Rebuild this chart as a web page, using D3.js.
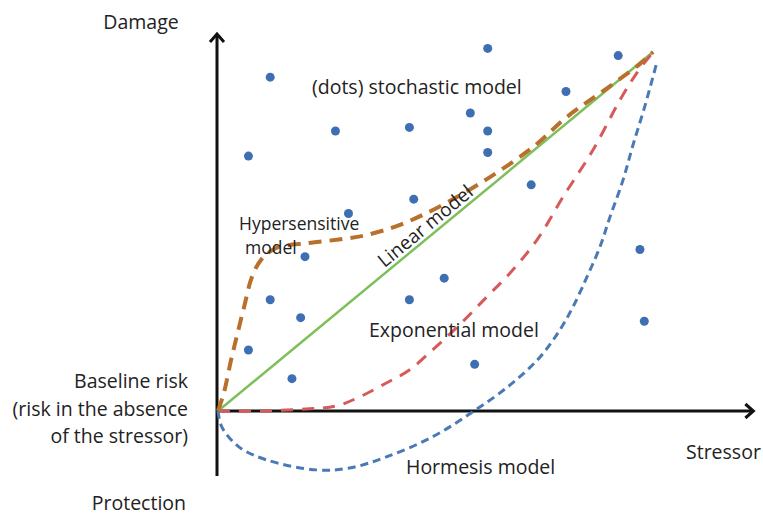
<!DOCTYPE html>
<html>
<head>
<meta charset="utf-8">
<script src="https://cdn.jsdelivr.net/npm/d3@7"></script>
<style>
  html, body { margin: 0; padding: 0; background: #fff; }
  svg text { font-family: "Open Sans", Lato, sans-serif; fill: #222; }
</style>
</head>
<body>
<svg id="chart" width="763" height="517"></svg>
<script>
// ---- data (stressor on x, damage on y; baseline at 0, common end point at 1,1) ----
const dotsX = [0.12, 0.62, 0.92, 0.80, 0.27, 0.44, 0.58, 0.62, 0.62, 0.07, 0.72, 0.45,
               0.30, 0.20, 0.97, 0.52, 0.12, 0.19, 0.44, 0.98, 0.07, 0.17, 0.59];
const dotsY = [0.93, 1.01, 0.99, 0.89, 0.78, 0.79, 0.83, 0.78, 0.72, 0.71, 0.63, 0.59,
               0.55, 0.43, 0.45, 0.37, 0.31, 0.26, 0.31, 0.25, 0.17, 0.09, 0.13];

const linearX = [0, 1];
const linearY = [0, 1];

const hyperX = [0, 0.014, 0.030, 0.044, 0.060, 0.078, 0.099, 0.134, 0.210, 0.286, 0.341,
                0.417, 0.502, 0.618, 0.724, 0.802, 0.908, 0.970, 1.0];
const hyperY = [0, 0.053, 0.142, 0.212, 0.290, 0.373, 0.421, 0.454, 0.468, 0.479, 0.490,
                0.518, 0.565, 0.646, 0.735, 0.819, 0.911, 0.967, 1.0];

const expoX = [0, 0.094, 0.210, 0.272, 0.325, 0.387, 0.440, 0.493, 0.555, 0.618, 0.671,
               0.733, 0.793, 0.862, 0.924, 0.963, 0.998];
const expoY = [0, 0, 0.006, 0.014, 0.039, 0.078, 0.114, 0.170, 0.240, 0.318, 0.384,
               0.476, 0.596, 0.727, 0.866, 0.942, 0.997];

const hormX = [0, 0.009, 0.048, 0.111, 0.226, 0.302, 0.387, 0.493, 0.585, 0.671, 0.740,
               0.786, 0.816, 0.848, 0.878, 0.901, 0.931, 0.954, 0.982, 1.009];
const hormY = [0, -0.045, -0.100, -0.136, -0.164, -0.159, -0.128, -0.072, -0.003, 0.072, 0.150,
               0.226, 0.290, 0.373, 0.457, 0.540, 0.643, 0.741, 0.852, 0.972];

const axisXExtent = [0, 1.233];
const axisYExtent = [-0.181, 1.053];

const baselineLines = ["Baseline risk", "(risk in the absence", "of the stressor)"];
const labelDamage = "Damage";
const labelProtection = "Protection";
const labelStressor = "Stressor";
const labelDots = "(dots) stochastic model";
const labelHyper = ["Hypersensitive", "model"];
const labelLinear = "Linear model";
const labelExpo = "Exponential model";
const labelHorm = "Hormesis model";

// ---- scales ----
const x = d3.scaleLinear().domain([0, 1]).range([218, 653]);
const y = d3.scaleLinear().domain([0, 1]).range([411, 52]);

const svg = d3.select("#chart");

const zip = (a, b) => a.map((v, i) => [v, b[i]]);
const line = d3.line().x(d => x(d[0])).y(d => y(d[1]));
const smooth = d3.line().x(d => x(d[0])).y(d => y(d[1])).curve(d3.curveCatmullRom.alpha(0.5));

// ---- dots ----
svg.append("g").selectAll("circle")
  .data(zip(dotsX, dotsY))
  .join("circle")
  .attr("cx", d => x(d[0]))
  .attr("cy", d => y(d[1]))
  .attr("r", 4.5)
  .attr("fill", "#3f6fb3");

// ---- axes ----
const axes = svg.append("g").attr("stroke", "#111").attr("fill", "none")
  .attr("stroke-width", 3).attr("stroke-linecap", "butt");
axes.append("line")
  .attr("x1", x(0) - 1).attr("x2", x(0) - 1)
  .attr("y1", y(axisYExtent[0])).attr("y2", y(axisYExtent[1]) + 2);
axes.append("line")
  .attr("x1", x(0) - 1).attr("x2", x(axisXExtent[1]) - 2)
  .attr("y1", y(0)).attr("y2", y(0));
// arrow heads
const yTipX = x(0) - 1, yTipY = y(axisYExtent[1]);
axes.append("path")
  .attr("stroke-linejoin", "miter")
  .attr("d", `M${yTipX - 7},${yTipY + 9}L${yTipX},${yTipY + 1}L${yTipX + 7},${yTipY + 9}`);
const xTipX = x(axisXExtent[1]), xTipY = y(0);
axes.append("path")
  .attr("stroke-linejoin", "miter")
  .attr("d", `M${xTipX - 9},${xTipY - 7}L${xTipX - 1},${xTipY}L${xTipX - 9},${xTipY + 7}`);

// ---- model curves ----
svg.append("path").datum(zip(linearX, linearY))
  .attr("d", line).attr("fill", "none")
  .attr("stroke", "#7fbf5a").attr("stroke-width", 2.5);

svg.append("path").datum(zip(expoX, expoY))
  .attr("d", smooth).attr("fill", "none")
  .attr("stroke", "#d65a5a").attr("stroke-width", 3)
  .attr("stroke-dasharray", "12,9");

svg.append("path").datum(zip(hormX, hormY))
  .attr("d", smooth).attr("fill", "none")
  .attr("stroke", "#4a79b4").attr("stroke-width", 3)
  .attr("stroke-dasharray", "8,5");

svg.append("path").datum(zip(hyperX, hyperY))
  .attr("d", smooth).attr("fill", "none")
  .attr("stroke", "#b8702c").attr("stroke-width", 4)
  .attr("stroke-dasharray", "13,8");

// ---- labels ----
const t = svg.append("g").attr("font-size", 19.5);
t.append("text").attr("x", 141).attr("y", 29).attr("text-anchor", "middle").text(labelDamage);
t.append("text").attr("x", 186).attr("y", 510).attr("text-anchor", "end").text(labelProtection);
t.append("text").attr("x", 686).attr("y", 459).text(labelStressor);
baselineLines.forEach((s, i) => {
  t.append("text").attr("x", 188).attr("y", 388 + i * 27.5).attr("text-anchor", "end").text(s);
});
t.append("text").attr("x", 312).attr("y", 94).text(labelDots);
t.append("text").attr("x", 239).attr("y", 230).attr("font-size", 17.5).text(labelHyper[0]);
t.append("text").attr("x", 245).attr("y", 254).attr("font-size", 17.5).text(labelHyper[1]);
t.append("text").attr("x", 369).attr("y", 337).text(labelExpo);
t.append("text").attr("x", 406).attr("y", 474).text(labelHorm);
const ang = Math.atan2(y(0) - y(1), x(1) - x(0)) * 180 / Math.PI;
const lx = 432;
t.append("text")
  .attr("transform", `translate(${lx},${y(x.invert(lx))}) rotate(${-ang})`)
  .attr("y", -4)
  .attr("text-anchor", "middle").attr("font-size", 19)
  .text(labelLinear);
</script>
</body>
</html>
